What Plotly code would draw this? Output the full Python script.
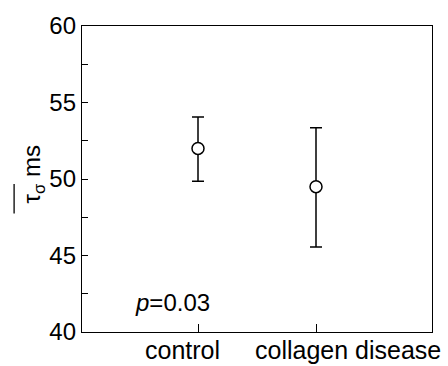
import plotly.graph_objects as go

groups = ["control", "collagen disease"]
means = [52.0, 49.5]
err_plus = [2.05, 3.85]
err_minus = [2.15, 3.95]
y_ticks = [40, 45, 50, 55, 60]
p_text = "<i>p</i>=0.03"

FONT = "Liberation Sans, Arial, sans-serif"
xpos = list(range(len(groups)))

fig = go.Figure()
fig.add_trace(go.Scatter(
    x=xpos, y=means, mode="markers",
    marker=dict(symbol="circle", size=12, color="white", line=dict(color="black", width=1.5)),
    error_y=dict(type="data", symmetric=False, array=err_plus, arrayminus=err_minus,
                 color="black", thickness=1.5, width=6),
    showlegend=False,
))

fig.update_layout(
    width=448, height=366,
    margin=dict(l=82, r=16, t=22, b=34),
    paper_bgcolor="white", plot_bgcolor="white",
    font=dict(family=FONT, size=24, color="black"),
    xaxis=dict(range=[-0.983, 1.983], tickvals=xpos, showticklabels=False,
               ticks="inside", ticklen=8, tickwidth=1.2, tickcolor="black",
               showline=True, linecolor="black", linewidth=1.3, mirror=True,
               showgrid=False, zeroline=False),
    yaxis=dict(range=[40, 60], tickvals=y_ticks,
               ticks="inside", ticklen=6, tickwidth=1.2, tickcolor="black",
               minor=dict(dtick=2.5, ticks="inside", ticklen=6, tickwidth=1.2, tickcolor="black",
                          showgrid=False),
               showline=True, linecolor="black", linewidth=1.3, mirror=True,
               showgrid=False, zeroline=False, tickfont=dict(size=24)),
)

# category labels (paper coordinates; the second one extends past the frame)
label_x = [0.174, 1.031]
label_anchor = ["left", "right"]
for g, lx, xa in zip(groups, label_x, label_anchor):
    fig.add_annotation(x=lx, y=0, xref="paper", yref="paper", text=g, showarrow=False,
                       xanchor=xa, yanchor="top", yshift=-2, font=dict(size=25))

fig.add_annotation(x=-0.55, y=41.94, xref="x", yref="y", text=p_text, showarrow=False,
                   xanchor="left", font=dict(size=24))

# y axis title with overline
fig.add_annotation(x=-0.19, y=0.515, xref="paper", yref="paper",
                   text="τ<sub>σ</sub> ms", textangle=-90, showarrow=False,
                   font=dict(size=24))
fig.add_shape(type="line", xref="paper", yref="paper",
              x0=-0.194, x1=-0.194, y0=0.387, y1=0.484,
              line=dict(color="black", width=1.3))

fig.write_html("out.html")
